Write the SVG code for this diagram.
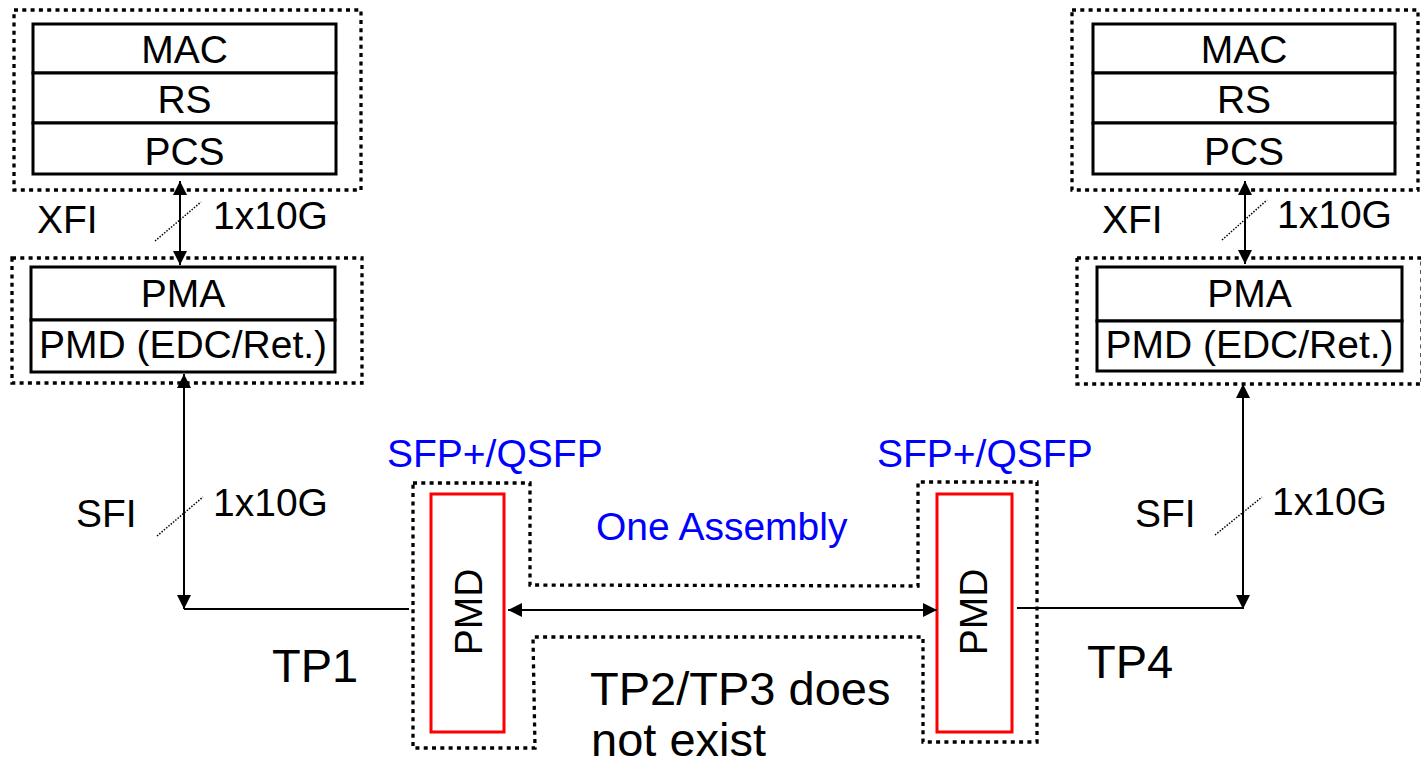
<svg xmlns="http://www.w3.org/2000/svg" width="1421" height="764" viewBox="0 0 1421 764">
<style>
text{font-family:"Liberation Sans",Arial,sans-serif;font-size:39px;fill:#000}
.c{text-anchor:middle}
.blue{fill:#0000ff}
.big{font-size:47px}
.cell{fill:#fff;stroke:#000;stroke-width:3}
.dot{fill:none;stroke:#000;stroke-width:3.3;stroke-dasharray:4 4.3}
.red{fill:#fff;stroke:#ff0000;stroke-width:3}
.ln{fill:none;stroke:#000;stroke-width:2}
.sl{fill:none;stroke:#000;stroke-width:1.5;stroke-dasharray:1.5 1.5}
</style>
<defs>
<marker id="ah" viewBox="0 0 14 14" refX="14" refY="7" markerWidth="14" markerHeight="14" markerUnits="userSpaceOnUse" orient="auto-start-reverse">
<path d="M0,0 L14,7 L0,14 z" fill="#000"/>
</marker>
</defs>
<rect width="1421" height="764" fill="#fff"/>

<g id="left-upper">
<rect class="dot" x="14" y="10" width="347" height="180"/>
<rect class="cell" x="33" y="24" width="303" height="49"/>
<rect class="cell" x="33" y="73" width="303" height="50"/>
<rect class="cell" x="33" y="123" width="303" height="51"/>
<text class="c" x="184.5" y="63">MAC</text>
<text class="c" x="184.5" y="113">RS</text>
<text class="c" x="184.5" y="165">PCS</text>
</g>

<g id="left-lower">
<rect class="dot" x="12" y="258" width="350" height="125"/>
<rect class="cell" x="31" y="267" width="304" height="53"/>
<rect class="cell" x="31" y="320" width="304" height="52"/>
<text class="c" x="183" y="307">PMA</text>
<text class="c" x="183" y="358">PMD (EDC/Ret.)</text>
</g>

<g id="right-upper">
<rect class="dot" x="1072" y="10" width="346" height="180"/>
<rect class="cell" x="1093" y="24" width="302" height="49"/>
<rect class="cell" x="1093" y="73" width="302" height="50"/>
<rect class="cell" x="1093" y="123" width="302" height="51"/>
<text class="c" x="1244" y="63">MAC</text>
<text class="c" x="1244" y="113">RS</text>
<text class="c" x="1244" y="165">PCS</text>
</g>

<g id="right-lower">
<rect class="dot" x="1077" y="258" width="345" height="126"/>
<rect class="cell" x="1097" y="267" width="305" height="54"/>
<rect class="cell" x="1097" y="321" width="305" height="50"/>
<text class="c" x="1249.5" y="307">PMA</text>
<text class="c" x="1249.5" y="358">PMD (EDC/Ret.)</text>
</g>

<g id="assembly">
<path class="dot" d="M413,483 L530,483 L530,585 L918,586 L918,482 L1037,482 L1037,742 L923,742 L923,637 L533,637 L535,748 L413,748 Z"/>
<text class="blue" x="596" y="540">One Assembly</text>
</g>

<g id="pmd-left">
<rect class="red" x="431" y="494" width="73" height="238"/>
<text class="c" transform="translate(482,612) rotate(-90)">PMD</text>
<text class="blue" x="387" y="467">SFP+/QSFP</text>
</g>

<g id="pmd-right">
<rect class="red" x="937" y="494" width="75" height="238"/>
<text class="c" transform="translate(987,612) rotate(-90)">PMD</text>
<text class="blue" x="877" y="467">SFP+/QSFP</text>
</g>

<g id="connectors">
<line class="ln" x1="180" y1="181" x2="180" y2="265" marker-start="url(#ah)" marker-end="url(#ah)"/>
<line class="sl" x1="155" y1="241" x2="201" y2="202"/>
<line class="ln" x1="184" y1="374" x2="184" y2="609" marker-start="url(#ah)" marker-end="url(#ah)"/>
<line class="sl" x1="157" y1="536" x2="203" y2="497"/>
<line class="ln" x1="184" y1="609" x2="409" y2="609"/>
<line class="ln" x1="1245" y1="181" x2="1245" y2="264" marker-start="url(#ah)" marker-end="url(#ah)"/>
<line class="sl" x1="1222" y1="240" x2="1267" y2="200"/>
<line class="ln" x1="1243" y1="384" x2="1243" y2="609" marker-start="url(#ah)" marker-end="url(#ah)"/>
<line class="sl" x1="1215" y1="535" x2="1262" y2="497"/>
<line class="ln" x1="1017" y1="608" x2="1243" y2="608"/>
<line class="ln" x1="508" y1="610" x2="937" y2="610" marker-start="url(#ah)" marker-end="url(#ah)"/>
</g>

<g id="labels">
<text x="37" y="233">XFI</text>
<text x="213" y="229">1x10G</text>
<text x="76" y="527">SFI</text>
<text x="213" y="516">1x10G</text>
<text x="1102" y="233">XFI</text>
<text x="1277" y="228">1x10G</text>
<text x="1135" y="527">SFI</text>
<text x="1272" y="515">1x10G</text>
<text class="big" x="272" y="682">TP1</text>
<text class="big" x="1087" y="678">TP4</text>
<text class="big" x="590" y="705">TP2/TP3 does</text>
<text class="big" x="591" y="756">not exist</text>
</g>
</svg>
